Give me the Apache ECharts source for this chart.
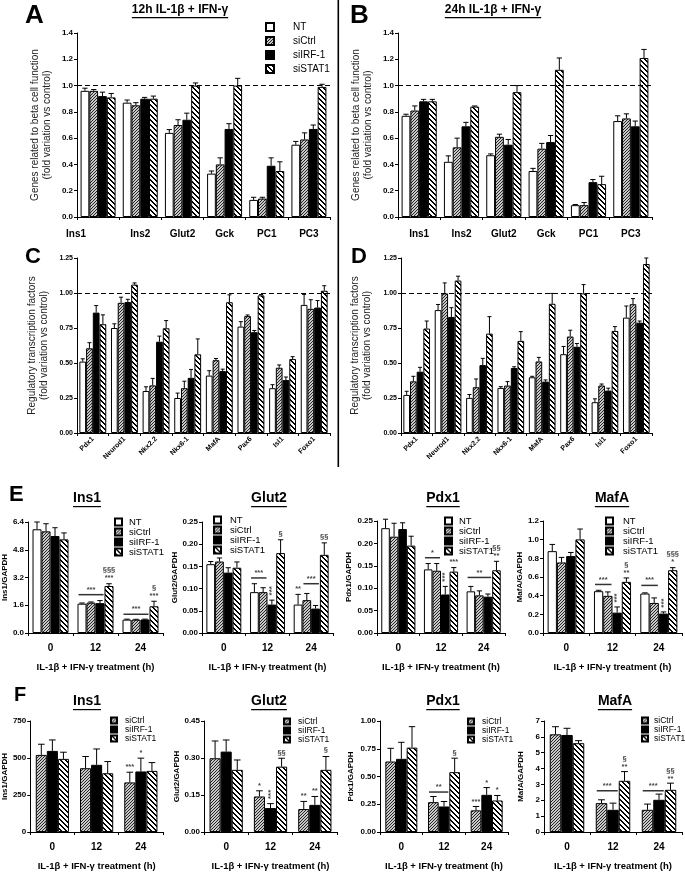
<!DOCTYPE html>
<html><head><meta charset="utf-8">
<script src="https://cdn.jsdelivr.net/npm/echarts@6/dist/echarts.min.js"></script>
<style>html,body{margin:0;padding:0;background:#fff}#c{width:685px;height:872px}</style>
</head><body><div id="c"></div>
<script>
// ---------- categories ----------
const genesAB = ['Ins1','Ins2','Glut2','Gck','PC1','PC3'];
const tfCD = ['Pdx1','Neurod1','Nkx2.2','Nkx6-1','MafA','Pax6','Isl1','Foxo1'];
const hours = ['0','12','24'];
const names4 = ['NT','siCtrl','siIRF-1','siSTAT1'];
const names3 = ['siCtrl','siIRF-1','siSTAT1'];

// ---------- Panel A (12h) ----------
const A_NT = [0.96,0.87,0.64,0.33,0.13,0.55];
const A_NT_sem = [0.02,0.02,0.025,0.02,0.02,0.025];
const A_siCtrl = [0.96,0.85,0.70,0.40,0.14,0.59];
const A_siCtrl_sem = [0.01,0.02,0.04,0.05,0.01,0.05];
const A_siIRF1 = [0.92,0.90,0.74,0.67,0.39,0.67];
const A_siIRF1_sem = [0.03,0.01,0.05,0.04,0.06,0.03];
const A_siSTAT1 = [0.91,0.90,1.00,1.00,0.35,0.99];
const A_siSTAT1_sem = [0.03,0.02,0.02,0.055,0.07,0.02];

// ---------- Panel B (24h) ----------
const B_NT = [0.77,0.42,0.47,0.35,0.09,0.73];
const B_NT_sem = [0.012,0.045,0.01,0.02,0.005,0.04];
const B_siCtrl = [0.81,0.53,0.61,0.52,0.09,0.75];
const B_siCtrl_sem = [0.035,0.07,0.02,0.04,0.02,0.035];
const B_siIRF1 = [0.88,0.69,0.55,0.57,0.265,0.69];
const B_siIRF1_sem = [0.015,0.03,0.04,0.05,0.02,0.04];
const B_siSTAT1 = [0.88,0.84,0.95,1.12,0.25,1.21];
const B_siSTAT1_sem = [0.015,0.005,0.05,0.09,0.06,0.065];

// ---------- Panel C (12h) ----------
const C_NT = [0.51,0.75,0.30,0.25,0.41,0.76,0.32,0.915];
const C_NT_sem = [0.02,0.03,0.03,0.035,0.035,0.035,0.025,0.075];
const C_siCtrl = [0.605,0.93,0.34,0.32,0.52,0.835,0.466,0.887];
const C_siCtrl_sem = [0.04,0.04,0.05,0.05,0.012,0.008,0.02,0.065];
const C_siIRF1 = [0.86,0.935,0.652,0.394,0.442,0.72,0.378,0.896];
const C_siIRF1_sem = [0.05,0.02,0.04,0.06,0.014,0.012,0.022,0.05];
const C_siSTAT1 = [0.777,1.06,0.748,0.562,0.934,0.983,0.528,1.016];
const C_siSTAT1_sem = [0.067,0.012,0.055,0.11,0.053,0.006,0.017,0.036];

// ---------- Panel D (24h) ----------
const D_NT = [0.272,0.878,0.251,0.322,0.398,0.563,0.22,0.824];
const D_NT_sem = [0.026,0.04,0.024,0.009,0.007,0.055,0.024,0.083];
const D_siCtrl = [0.369,0.997,0.327,0.339,0.511,0.689,0.339,0.92];
const D_siCtrl_sem = [0.036,0.075,0.059,0.028,0.029,0.045,0.011,0.04];
const D_siIRF1 = [0.438,0.829,0.485,0.464,0.367,0.616,0.303,0.788];
const D_siIRF1_sem = [0.031,0.066,0.048,0.009,0.012,0.023,0.017,0.012];
const D_siSTAT1 = [0.746,1.089,0.71,0.658,0.923,0.997,0.729,1.207];
const D_siSTAT1_sem = [0.054,0.031,0.121,0.066,0.074,0.063,0.031,0.043];

// ---------- Panel E ----------
const E_Ins1_NT = [5.98,1.69,0.77];      const E_Ins1_NT_sem = [0.42,0.04,0.03];
const E_Ins1_siCtrl = [5.86,1.75,0.77];  const E_Ins1_siCtrl_sem = [0.44,0.04,0.02];
const E_Ins1_siIRF1 = [5.59,1.72,0.78];  const E_Ins1_siIRF1_sem = [0.48,0.15,0.02];
const E_Ins1_siSTAT1 = [5.40,2.71,1.54]; const E_Ins1_siSTAT1_sem = [0.37,0.13,0.29];

const E_Glut2_NT = [0.155,0.092,0.064];      const E_Glut2_NT_sem = [0.006,0.019,0.023];
const E_Glut2_siCtrl = [0.161,0.092,0.074];  const E_Glut2_siCtrl_sem = [0.008,0.01,0.015];
const E_Glut2_siIRF1 = [0.136,0.064,0.055];  const E_Glut2_siIRF1_sem = [0.011,0.01,0.007];
const E_Glut2_siSTAT1 = [0.147,0.18,0.176];  const E_Glut2_siSTAT1_sem = [0.013,0.03,0.027];

const E_Pdx1_NT = [0.234,0.142,0.093];      const E_Pdx1_NT_sem = [0.02,0.013,0.011];
const E_Pdx1_siCtrl = [0.215,0.139,0.084];  const E_Pdx1_siCtrl_sem = [0.03,0.016,0.01];
const E_Pdx1_siIRF1 = [0.232,0.086,0.081];  const E_Pdx1_siIRF1_sem = [0.014,0.018,0.006];
const E_Pdx1_siSTAT1 = [0.195,0.137,0.14];  const E_Pdx1_siSTAT1_sem = [0.021,0.009,0.02];

const E_MafA_NT = [0.877,0.448,0.423];      const E_MafA_NT_sem = [0.072,0.01,0.007];
const E_MafA_siCtrl = [0.756,0.398,0.322];  const E_MafA_siCtrl_sem = [0.054,0.042,0.054];
const E_MafA_siIRF1 = [0.824,0.218,0.208];  const E_MafA_siIRF1_sem = [0.039,0.061,0.018];
const E_MafA_siSTAT1 = [1.003,0.548,0.673]; const E_MafA_siSTAT1_sem = [0.111,0.042,0.027];

// ---------- Panel F ----------
const F_Ins1_siCtrl = [521,431,335];   const F_Ins1_siCtrl_sem = [72,79,69];
const F_Ins1_siIRF1 = [548,454,409];   const F_Ins1_siIRF1_sem = [74,107,90];
const F_Ins1_siSTAT1 = [494,397,413];  const F_Ins1_siSTAT1_sem = [45,79,56];

const F_Glut2_siCtrl = [0.299,0.144,0.093];  const F_Glut2_siCtrl_sem = [0.07,0.023,0.031];
const F_Glut2_siIRF1 = [0.326,0.097,0.11];   const F_Glut2_siIRF1_sem = [0.047,0.018,0.034];
const F_Glut2_siSTAT1 = [0.252,0.265,0.252]; const F_Glut2_siSTAT1_sem = [0.04,0.034,0.054];

const F_Pdx1_siCtrl = [0.635,0.269,0.195];  const F_Pdx1_siCtrl_sem = [0.119,0.051,0.035];
const F_Pdx1_siIRF1 = [0.659,0.23,0.335];   const F_Pdx1_siIRF1_sem = [0.149,0.045,0.065];
const F_Pdx1_siSTAT1 = [0.76,0.539,0.284];  const F_Pdx1_siSTAT1_sem = [0.189,0.126,0.045];

const F_MafA_siCtrl = [6.16,1.82,1.40];   const F_MafA_siCtrl_sem = [0.48,0.21,0.36];
const F_MafA_siIRF1 = [6.12,1.40,2.03];   const F_MafA_siIRF1_sem = [0.42,0.42,0.36];
const F_MafA_siSTAT1 = [5.60,3.23,2.66];  const F_MafA_siSTAT1_sem = [0.16,0.58,0.42];

// ---------- significance marks (category, bar range, value level, text) ----------
const E_Ins1_marks = [
  {cat:1,from:0,to:2,y:2.21,text:'***',line:true},
  {cat:1,from:3,to:3,y:2.92,text:'§§§\n***'},
  {cat:2,from:0,to:2,y:1.08,text:'***',line:true},
  {cat:2,from:3,to:3,y:1.88,text:'§\n***'}
];
const E_Glut2_marks = [
  {cat:1,from:0,to:1,y:0.124,text:'***',line:true},
  {cat:1,from:2,to:2,y:0.077,text:'***',vertical:true},
  {cat:1,from:3,to:3,y:0.214,text:'§'},
  {cat:2,from:0,to:0,y:0.09,text:'**'},
  {cat:2,from:1,to:2,y:0.111,text:'***',line:true},
  {cat:2,from:3,to:3,y:0.207,text:'§§'}
];
const E_Pdx1_marks = [
  {cat:1,from:0,to:1,y:0.168,text:'*',line:true},
  {cat:1,from:2,to:2,y:0.107,text:'***',vertical:true},
  {cat:1,from:3,to:3,y:0.149,text:'***'},
  {cat:2,from:0,to:2,y:0.124,text:'**',line:true},
  {cat:2,from:3,to:3,y:0.163,text:'§§\n**'}
];
const E_MafA_marks = [
  {cat:1,from:0,to:1,y:0.52,text:'***',line:true},
  {cat:1,from:2,to:2,y:0.29,text:'***',vertical:true},
  {cat:1,from:3,to:3,y:0.60,text:'§\n**'},
  {cat:2,from:0,to:1,y:0.51,text:'***',line:true},
  {cat:2,from:2,to:2,y:0.235,text:'***',vertical:true},
  {cat:2,from:3,to:3,y:0.72,text:'§§§\n*'}
];
const F_Ins1_marks = [
  {cat:2,from:0,to:0,y:410,text:'***'},
  {cat:2,from:1,to:1,y:505,text:'*'}
];
const F_Glut2_marks = [
  {cat:1,from:0,to:0,y:0.172,text:'*'},
  {cat:1,from:1,to:1,y:0.12,text:'***',vertical:true},
  {cat:1,from:2,to:2,y:0.305,text:'§§'},
  {cat:2,from:0,to:0,y:0.13,text:'**'},
  {cat:2,from:1,to:1,y:0.15,text:'**'},
  {cat:2,from:2,to:2,y:0.315,text:'§'}
];
const F_Pdx1_marks = [
  {cat:1,from:0,to:1,y:0.36,text:'**',line:true},
  {cat:1,from:2,to:2,y:0.68,text:'§'},
  {cat:2,from:0,to:0,y:0.235,text:'***'},
  {cat:2,from:1,to:1,y:0.41,text:'*'},
  {cat:2,from:2,to:2,y:0.34,text:'*'}
];
const F_MafA_marks = [
  {cat:1,from:0,to:1,y:2.6,text:'***',line:true},
  {cat:1,from:2,to:2,y:3.85,text:'§\n**'},
  {cat:2,from:0,to:1,y:2.6,text:'***',line:true},
  {cat:2,from:2,to:2,y:3.1,text:'§§\n**'}
];

// ---------- patterns ----------
function makePattern(kind){
  const cv = document.createElement('canvas');
  const ctx = cv.getContext('2d');
  if (kind === 'fine') {
    const s = 3; cv.width = s; cv.height = s;
    ctx.fillStyle = '#c8c8c8'; ctx.fillRect(0,0,s,s);
    ctx.fillStyle = '#262626';
    for (let r = 0; r < s; r++) ctx.fillRect((s - 1 - r), r, 1, 1);
  } else {
    const s = 5; cv.width = s; cv.height = s;
    ctx.fillStyle = '#fff'; ctx.fillRect(0,0,s,s);
    ctx.fillStyle = '#000';
    for (let r = 0; r < s; r++) { ctx.fillRect(r % s, r, 1, 1); ctx.fillRect((r + 1) % s, r, 1, 1); }
  }
  return {image: cv, repeat: 'repeat'};
}
const fills = {
  'NT': '#ffffff',
  'siCtrl': makePattern('fine'),
  'siIRF-1': '#000000',
  'siSTAT1': makePattern('bold')
};

const FONT = '"Liberation Sans", Arial, sans-serif';
const measure = (() => { const c = document.createElement('canvas').getContext('2d');
  return (txt, font) => { c.font = font; return c.measureText(txt).width; }; })();

const grids = [], xAxes = [], yAxes = [], series = [], legends = [], graphics = [];

function addPanel(cfg){
  const gi = grids.length;
  grids.push({left:cfg.box[0], top:cfg.box[1], width:cfg.box[2], height:cfg.box[3], containLabel:false});
  xAxes.push({
    type:'category', gridIndex:gi, data:cfg.cats,
    axisLine:{lineStyle:{color:'#000',width:1}},
    axisTick:{show:true,length:3,lineStyle:{color:'#000'}},
    axisLabel:Object.assign({interval:0,color:'#000',fontWeight:'bold',fontFamily:FONT,fontSize:cfg.xFont||10,margin:cfg.xMargin||10,rotate:cfg.xRotate||0}, cfg.xLabelExtra||{}),
    name:cfg.xName||'', nameLocation:'middle', nameGap:cfg.xNameGap||28,
    nameTextStyle:{color:'#000',fontWeight:'bold',fontFamily:FONT,fontSize:9.5}
  });
  yAxes.push({
    type:'value', gridIndex:gi, min:0, max:cfg.max, interval:cfg.interval,
    axisLine:{show:true,lineStyle:{color:'#000',width:1}},
    axisTick:{show:true,length:3,lineStyle:{color:'#000'}},
    splitLine:{show:false},
    axisLabel:{color:'#000',fontWeight:'bold',fontFamily:FONT,fontSize:cfg.yFont||8,margin:4,
      formatter:v=>cfg.dec===0?String(Math.round(v)):v.toFixed(cfg.dec)},
    name:cfg.yName, nameLocation:'middle', nameGap:cfg.yNameGap,
    nameTextStyle:cfg.yNameStyle
  });
  const n = cfg.names.length, gap = cfg.gap;
  cfg.names.forEach((nm, si) => {
    const s = {
      type:'bar', name:nm, xAxisIndex:gi, yAxisIndex:gi, data:cfg.vals[si],
      barGap:'0%', barCategoryGap:(gap*100)+'%',
      itemStyle:{color:fills[nm], borderColor:'#000', borderWidth:1},
      emphasis:{disabled:true}, z:2
    };
    if (cfg.refLine && si === 0) {
      s.markLine = {silent:true, symbol:'none', label:{show:false},
        lineStyle:{type:[5,3],color:'#000',width:1.2}, data:[{yAxis:1}], animation:false};
    }
    series.push(s);
  });
  // error bars (upper only)
  const edata = [];
  cfg.vals.forEach((arr, si) => arr.forEach((v, ci) => edata.push([ci, v + cfg.sems[si][ci], v, si])));
  series.push({
    type:'custom', xAxisIndex:gi, yAxisIndex:gi, silent:true, z:3, data:edata,
    encode:{x:0, y:[1,2]},
    renderItem(params, api){
      const top = api.coord([api.value(0), api.value(1)]);
      const base = api.coord([api.value(0), api.value(2)]);
      const band = api.size([1,0])[0];
      const bw = band*(1-gap)/n;
      const x = top[0] - band*(1-gap)/2 + (api.value(3)+0.5)*bw;
      const cap = Math.max(2, bw*0.3);
      return {type:'group', children:[
        {type:'line', shape:{x1:x,y1:base[1],x2:x,y2:top[1]}, style:{stroke:'#000',lineWidth:1}},
        {type:'line', shape:{x1:x-cap,y1:top[1],x2:x+cap,y2:top[1]}, style:{stroke:'#000',lineWidth:1}}
      ]};
    }
  });
  if (cfg.marks) {
    const marks = cfg.marks;
    series.push({
      type:'custom', xAxisIndex:gi, yAxisIndex:gi, silent:true, z:4,
      data:marks.map(m=>[m.cat, m.y]), encode:{x:0,y:1},
      renderItem(params, api){
        const m = marks[params.dataIndex];
        const c = api.coord([api.value(0), api.value(1)]);
        const band = api.size([1,0])[0];
        const bw = band*(1-gap)/n;
        const left = c[0] - band*(1-gap)/2;
        const x0 = left + m.from*bw + (m.line?1:0), x1 = left + (m.to+1)*bw - (m.line?1:0);
        const ch = [];
        if (m.line) ch.push({type:'line', shape:{x1:x0,y1:c[1],x2:x1,y2:c[1]}, style:{stroke:'#333',lineWidth:1.5}});
        if (m.vertical) {
          ch.push({type:'text', x:(x0+x1)/2, y:c[1]-8, rotation:Math.PI/2,
            style:{text:m.text, textAlign:'center', textVerticalAlign:'middle', font:'bold 8px '+FONT, fill:'#444'}});
        } else {
          ch.push({type:'text', x:(x0+x1)/2, y:c[1]-(m.line?1:0),
            style:{text:m.text, textAlign:'center', textVerticalAlign:'bottom', font:'bold 7.5px '+FONT, fill:'#444', lineHeight:8}});
        }
        return {type:'group', children:ch};
      }
    });
  }
  if (cfg.legend) {
    const L = cfg.legend;
    legends.push({
      orient:'vertical', left:L.left, top:L.top, padding:0, itemWidth:L.icon, itemHeight:L.icon, itemGap:L.gap,
      icon:'rect', data:cfg.names, selectedMode:false,
      textStyle:{color:'#000', fontFamily:FONT, fontSize:L.font, lineHeight:L.lh||L.font, padding:[0,0,0,L.pad||0]}
    });
  }
}

function titleU(txt, cx, top, size){
  const font = 'bold '+size+'px '+FONT;
  const w = measure(txt, font);
  graphics.push({type:'text', left:cx - w/2, top:top, style:{text:txt, font:font, fill:'#000'}});
  graphics.push({type:'rect', shape:{x:cx - w/2, y:top+size+1, width:w, height:1.2}, style:{fill:'#000'}});
}
function letter(txt, x, y, size){
  graphics.push({type:'text', left:x, top:y, style:{text:txt, font:'bold '+size+'px '+FONT, fill:'#000'}});
}

const topNameStyle = {color:'#222', fontFamily:FONT, fontSize:10, lineHeight:12};
const gNameStyle = {color:'#000', fontFamily:FONT, fontSize:8, fontWeight:'bold'};

// Panel A
addPanel({box:[77,33,253,184], cats:genesAB, names:names4,
  vals:[A_NT,A_siCtrl,A_siIRF1,A_siSTAT1], sems:[A_NT_sem,A_siCtrl_sem,A_siIRF1_sem,A_siSTAT1_sem],
  max:1.4, interval:0.2, dec:1, gap:0.17, refLine:true, xFont:10, xMargin:12,
  xLabelExtra:{formatter:(v,i)=> i===0 ? '{a|'+v+'}' : v, rich:{a:{fontWeight:'bold',fontFamily:FONT,fontSize:10,color:'#000',padding:[0,44,0,0]}}},
  yName:'Genes related to beta cell function\n(fold variation vs control)', yNameGap:24, yNameStyle:topNameStyle,
  legend:{left:265,top:22,icon:8,gap:4,font:10,pad:14}});
// Panel B
addPanel({box:[398,33,254,184], cats:genesAB, names:names4,
  vals:[B_NT,B_siCtrl,B_siIRF1,B_siSTAT1], sems:[B_NT_sem,B_siCtrl_sem,B_siIRF1_sem,B_siSTAT1_sem],
  max:1.4, interval:0.2, dec:1, gap:0.17, refLine:true, xFont:10, xMargin:12,
  yName:'Genes related to beta cell function\n(fold variation vs control)', yNameGap:24, yNameStyle:topNameStyle});
// Panel C
addPanel({box:[77,258,253,175], cats:tfCD, names:names4,
  vals:[C_NT,C_siCtrl,C_siIRF1,C_siSTAT1], sems:[C_NT_sem,C_siCtrl_sem,C_siIRF1_sem,C_siSTAT1_sem],
  max:1.25, interval:0.25, dec:2, gap:0.15, refLine:true, xFont:7, xMargin:5, xRotate:45, yFont:7,
  yName:'Regulatory transcription factors\n(fold variation vs control)', yNameGap:27, yNameStyle:topNameStyle});
// Panel D
addPanel({box:[401,258,251,175], cats:tfCD, names:names4,
  vals:[D_NT,D_siCtrl,D_siIRF1,D_siSTAT1], sems:[D_NT_sem,D_siCtrl_sem,D_siIRF1_sem,D_siSTAT1_sem],
  max:1.25, interval:0.25, dec:2, gap:0.15, refLine:true, xFont:7, xMargin:5, xRotate:45, yFont:7,
  yName:'Regulatory transcription factors\n(fold variation vs control)', yNameGap:28, yNameStyle:topNameStyle});

const treat = 'IL-1β + IFN-γ treatment (h)';
// Panel E
addPanel({box:[24,522,139,111], cats:hours, names:names4,
  vals:[E_Ins1_NT,E_Ins1_siCtrl,E_Ins1_siIRF1,E_Ins1_siSTAT1], sems:[E_Ins1_NT_sem,E_Ins1_siCtrl_sem,E_Ins1_siIRF1_sem,E_Ins1_siSTAT1_sem],
  max:6.4, interval:1.6, dec:1, gap:0.2, xFont:10, xMargin:10, xName:treat, xNameGap:29,
  yName:'Ins1/GAPDH', yNameGap:15, yNameStyle:gNameStyle, marks:E_Ins1_marks,
  legend:{left:114,top:517,icon:7,gap:0,font:9.5,lh:8.5,pad:2}});
addPanel({box:[202,522,131,111], cats:hours, names:names4,
  vals:[E_Glut2_NT,E_Glut2_siCtrl,E_Glut2_siIRF1,E_Glut2_siSTAT1], sems:[E_Glut2_NT_sem,E_Glut2_siCtrl_sem,E_Glut2_siIRF1_sem,E_Glut2_siSTAT1_sem],
  max:0.25, interval:0.05, dec:2, gap:0.2, xFont:10, xMargin:10, xName:treat, xNameGap:29,
  yName:'Glut2/GAPDH', yNameGap:22, yNameStyle:gNameStyle, marks:E_Glut2_marks,
  legend:{left:213,top:515,icon:7,gap:0,font:9.5,lh:8.5,pad:4}});
addPanel({box:[377,521,128,112], cats:hours, names:names4,
  vals:[E_Pdx1_NT,E_Pdx1_siCtrl,E_Pdx1_siIRF1,E_Pdx1_siSTAT1], sems:[E_Pdx1_NT_sem,E_Pdx1_siCtrl_sem,E_Pdx1_siIRF1_sem,E_Pdx1_siSTAT1_sem],
  max:0.25, interval:0.05, dec:2, gap:0.2, xFont:10, xMargin:10, xName:treat, xNameGap:29,
  yName:'Pdx1/GAPDH', yNameGap:24, yNameStyle:gNameStyle, marks:E_Pdx1_marks,
  legend:{left:444,top:516,icon:7,gap:0,font:9.5,lh:8.5,pad:2}});
addPanel({box:[543,521,139,112], cats:hours, names:names4,
  vals:[E_MafA_NT,E_MafA_siCtrl,E_MafA_siIRF1,E_MafA_siSTAT1], sems:[E_MafA_NT_sem,E_MafA_siCtrl_sem,E_MafA_siIRF1_sem,E_MafA_siSTAT1_sem],
  max:1.2, interval:0.2, dec:1, gap:0.2, xFont:10, xMargin:10, xName:treat, xNameGap:29,
  yName:'MafA/GAPDH', yNameGap:18, yNameStyle:gNameStyle, marks:E_MafA_marks,
  legend:{left:605,top:516,icon:7,gap:0,font:9.5,lh:8.5,pad:5}});

// Panel F
addPanel({box:[28,721,135,111], cats:hours, names:names3,
  vals:[F_Ins1_siCtrl,F_Ins1_siIRF1,F_Ins1_siSTAT1], sems:[F_Ins1_siCtrl_sem,F_Ins1_siIRF1_sem,F_Ins1_siSTAT1_sem],
  max:750, interval:250, dec:0, gap:0.25, xFont:10, xMargin:10, xName:treat, xNameGap:29,
  yName:'Ins1/GAPDH', yNameGap:20, yNameStyle:gNameStyle, marks:F_Ins1_marks,
  legend:{left:110,top:716,icon:6,gap:0,font:8.5,lh:9,pad:3}});
addPanel({box:[204,721,133,111], cats:hours, names:names3,
  vals:[F_Glut2_siCtrl,F_Glut2_siIRF1,F_Glut2_siSTAT1], sems:[F_Glut2_siCtrl_sem,F_Glut2_siIRF1_sem,F_Glut2_siSTAT1_sem],
  max:0.45, interval:0.15, dec:2, gap:0.25, xFont:10, xMargin:10, xName:treat, xNameGap:29,
  yName:'Glut2/GAPDH', yNameGap:21, yNameStyle:gNameStyle, marks:F_Glut2_marks,
  legend:{left:283,top:717,icon:6,gap:0,font:8.5,lh:9,pad:3}});
addPanel({box:[380,721,128,111], cats:hours, names:names3,
  vals:[F_Pdx1_siCtrl,F_Pdx1_siIRF1,F_Pdx1_siSTAT1], sems:[F_Pdx1_siCtrl_sem,F_Pdx1_siIRF1_sem,F_Pdx1_siSTAT1_sem],
  max:1, interval:0.25, dec:2, gap:0.25, xFont:10, xMargin:10, xName:treat, xNameGap:29,
  yName:'Pdx1/GAPDH', yNameGap:25, yNameStyle:gNameStyle, marks:F_Pdx1_marks,
  legend:{left:467,top:717,icon:6,gap:0,font:8.5,lh:9,pad:3}});
addPanel({box:[544,721,138,111], cats:hours, names:names3,
  vals:[F_MafA_siCtrl,F_MafA_siIRF1,F_MafA_siSTAT1], sems:[F_MafA_siCtrl_sem,F_MafA_siIRF1_sem,F_MafA_siSTAT1_sem],
  max:7, interval:1, dec:0, gap:0.25, xFont:10, xMargin:10, xName:treat, xNameGap:29,
  yName:'MafA/GAPDH', yNameGap:19, yNameStyle:gNameStyle, marks:F_MafA_marks,
  legend:{left:641,top:716,icon:6,gap:0,font:8.5,lh:9,pad:1}});

// titles, letters, divider
titleU('12h IL-1β + IFN-γ', 180, 4, 12);
titleU('24h IL-1β + IFN-γ', 493, 4, 12);
letter('A', 25, 3, 26); letter('B', 350, 3, 26);
letter('C', 25, 246, 22); letter('D', 351, 246, 22);
letter('E', 9, 484, 22); letter('F', 14, 685, 20);
titleU('Ins1', 87, 491, 14); titleU('Glut2', 269, 491, 14);
titleU('Pdx1', 443, 491, 14); titleU('MafA', 612, 491, 14);
titleU('Ins1', 87, 694, 14); titleU('Glut2', 269, 694, 14);
titleU('Pdx1', 443, 694, 14); titleU('MafA', 615, 694, 14);
graphics.push({type:'rect', shape:{x:337.5, y:0, width:1.6, height:467}, style:{fill:'#000'}});

const chart = echarts.init(document.getElementById('c'), null, {renderer:'canvas'});
chart.setOption({
  animation:false, backgroundColor:'#fff',
  grid:grids, xAxis:xAxes, yAxis:yAxes, series:series, legend:legends, graphic:graphics
});
</script></body></html>
